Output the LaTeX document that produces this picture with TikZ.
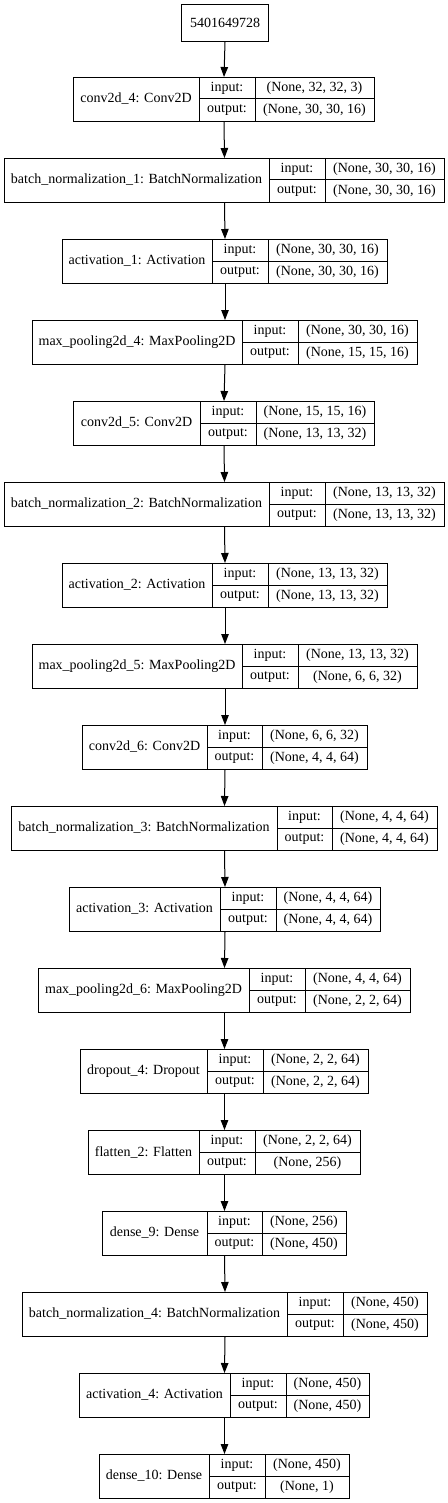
\documentclass[tikz,border=0pt]{standalone}
\usepackage{fontspec}
\setmainfont{Liberation Serif}
\usepackage{tikz}
\usetikzlibrary{arrows.meta}

\tikzset{
	layerbox/.style={draw, line width=1bp, inner sep=0pt, minimum height=44bp},
	cellrule/.style={line width=1bp},
	celltext/.style={inner sep=0pt, font=\fontsize{14bp}{16bp}\selectfont},
	flow/.style={line width=1bp, -{Triangle[length=10bp,width=7.5bp]}}
}

% #1 name, #2 top, #3-#6 column edges, #7 label, #8 input, #9 output
\newcommand{\keraslayer}[9]{%
	\node[layerbox, minimum width={(#6-#3)*1bp}, anchor=north west] (#1) at (#3,#2) {};
	\draw[cellrule] (#4,#2) -- ++(0,44) (#5,#2) -- ++(0,44) ({#4},{#2+22}) -- ({#6},{#2+22});
	\node[celltext] (#1-lbl) at ({(#3+#4)/2},{#2+22}) {#7};
	\node[celltext] (#1-in) at ({(#4+#5)/2},{#2+11}) {input:};
	\node[celltext] (#1-out) at ({(#4+#5)/2},{#2+33}) {output:};
	\node[celltext] (#1-ins) at ({(#5+#6)/2},{#2+11}) {#8};
	\node[celltext] (#1-outs) at ({(#5+#6)/2},{#2+33}) {#9};
}

\begin{document}
\begin{tikzpicture}[x=1bp, y=-1bp]
\useasboundingbox (0,0) rectangle (448,1503);
\node[layerbox, celltext, minimum width=87bp, minimum height=37bp, anchor=north west] (src) at (181,4) {5401649728};
\keraslayer{conva}{77}{73}{199}{255}{374}{conv2d\_4: Conv2D}{(None, 32, 32, 3)}{(None, 30, 30, 16)}
\keraslayer{bna}{158}{4}{269}{325}{444}{batch\_normalization\_1: BatchNormalization}{(None, 30, 30, 16)}{(None, 30, 30, 16)}
\keraslayer{acta}{239}{62}{212}{268}{387}{activation\_1: Activation}{(None, 30, 30, 16)}{(None, 30, 30, 16)}
\keraslayer{poola}{320}{32}{242}{298}{417}{max\_pooling2d\_4: MaxPooling2D}{(None, 30, 30, 16)}{(None, 15, 15, 16)}
\keraslayer{convb}{401}{73}{200}{256}{374}{conv2d\_5: Conv2D}{(None, 15, 15, 16)}{(None, 13, 13, 32)}
\keraslayer{bnb}{482}{4}{269}{325}{444}{batch\_normalization\_2: BatchNormalization}{(None, 13, 13, 32)}{(None, 13, 13, 32)}
\keraslayer{actb}{563}{62}{212}{268}{387}{activation\_2: Activation}{(None, 13, 13, 32)}{(None, 13, 13, 32)}
\keraslayer{poolb}{644}{32}{242}{298}{417}{max\_pooling2d\_5: MaxPooling2D}{(None, 13, 13, 32)}{(None, 6, 6, 32)}
\keraslayer{convc}{725}{82}{207}{262}{367}{conv2d\_6: Conv2D}{(None, 6, 6, 32)}{(None, 4, 4, 64)}
\keraslayer{bnc}{806}{11}{277}{332}{437}{batch\_normalization\_3: BatchNormalization}{(None, 4, 4, 64)}{(None, 4, 4, 64)}
\keraslayer{actc}{887}{69}{220}{276}{380}{activation\_3: Activation}{(None, 4, 4, 64)}{(None, 4, 4, 64)}
\keraslayer{poolc}{968}{38}{249}{305}{410}{max\_pooling2d\_6: MaxPooling2D}{(None, 4, 4, 64)}{(None, 2, 2, 64)}
\keraslayer{drop}{1049}{80}{207}{263}{368}{dropout\_4: Dropout}{(None, 2, 2, 64)}{(None, 2, 2, 64)}
\keraslayer{flat}{1130}{88}{199}{255}{360}{flatten\_2: Flatten}{(None, 2, 2, 64)}{(None, 256)}
\keraslayer{densea}{1211}{102}{207}{262}{346}{dense\_9: Dense}{(None, 256)}{(None, 450)}
\keraslayer{bnd}{1292}{22}{287}{343}{427}{batch\_normalization\_4: BatchNormalization}{(None, 450)}{(None, 450)}
\keraslayer{actd}{1373}{79}{230}{286}{369}{activation\_4: Activation}{(None, 450)}{(None, 450)}
\keraslayer{denseb}{1454}{99}{209}{265}{349}{dense\_10: Dense}{(None, 450)}{(None, 1)}
\foreach \a/\b in {src/conva, conva/bna, bna/acta, acta/poola, poola/convb, convb/bnb, bnb/actb, actb/poolb, poolb/convc, convc/bnc, bnc/actc, actc/poolc, poolc/drop, drop/flat, flat/densea, densea/bnd, bnd/actd, actd/denseb}
	\draw[flow] (\a.south) -- (\b.north);
\end{tikzpicture}
\end{document}
